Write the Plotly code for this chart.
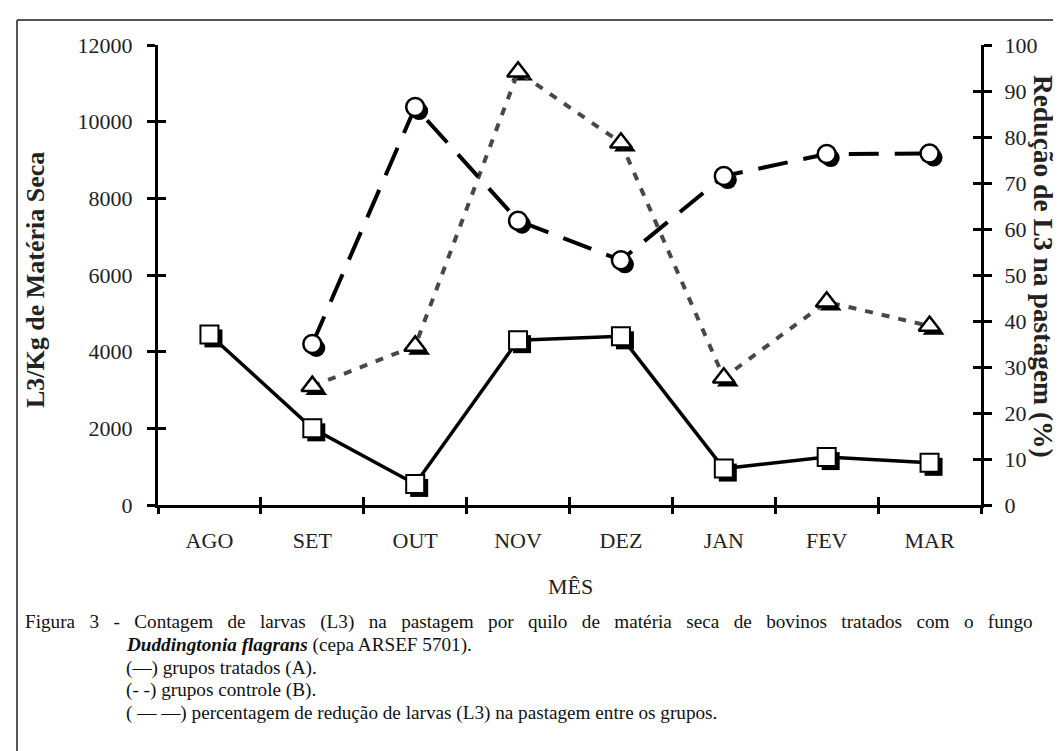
import plotly.graph_objects as go

# ---------------- data ----------------
months = ["AGO", "SET", "OUT", "NOV", "DEZ", "JAN", "FEV", "MAR"]
treated_A = [4450, 2000, 550, 4300, 4400, 950, 1250, 1100]          # L3/kg MS (left axis)
control_B = [None, 3100, 4150, 11300, 9450, 3320, 5300, 4670]       # L3/kg MS (left axis)
reduction = [None, 35.0, 86.5, 61.8, 53.2, 71.5, 76.3, 76.4]        # % (right axis)
left_ticks = [0, 2000, 4000, 6000, 8000, 10000, 12000]
left_ticktext = ["0", "2000", "4000", "6000", "8000", "10000", "12000"]
right_ticks = [0, 10, 20, 30, 40, 50, 60, 70, 80, 90, 100]

# ---------------- geometry ----------------
W, H = 1061, 751
L, R, T, B = 150, 973, 37, 497      # plot area in pixels
XR = [-0.5, 7.5]
YL = [0, 12000]
YR = [0, 100]
SH = 4  # shadow offset in px

ux = (XR[1] - XR[0]) / (R - L)
vl = (YL[1] - YL[0]) / (B - T)
vr = (YR[1] - YR[0]) / (B - T)

def px(p):
    return (p - L) / (R - L)

def py(p):
    return (B - p) / (B - T)

FONT = "Times New Roman, Liberation Serif, DejaVu Serif, serif"
x = list(range(len(months)))
bounds = [i - 0.5 for i in range(len(months) + 1)]

fig = go.Figure()

# shadows (base subplot, shifted axes)
fig.add_trace(go.Scatter(x=x, y=treated_A, mode="markers", xaxis="x", yaxis="y",
                         marker=dict(symbol="square", size=18, color="black", line=dict(width=0)),
                         showlegend=False, hoverinfo="skip"))
fig.add_trace(go.Scatter(x=x, y=control_B, mode="markers", xaxis="x", yaxis="y",
                         marker=dict(symbol="triangle-up", size=19, color="black", line=dict(width=0)),
                         showlegend=False, hoverinfo="skip"))
fig.add_trace(go.Scatter(x=x, y=reduction, mode="markers", xaxis="x", yaxis="y2",
                         marker=dict(symbol="circle", size=18, color="black", line=dict(width=0)),
                         showlegend=False, hoverinfo="skip"))

# visible series
fig.add_trace(go.Scatter(x=x, y=control_B, mode="lines+markers", xaxis="x2", yaxis="y3",
                         line=dict(color="#484848", width=4, dash="8px,9px"),
                         marker=dict(symbol="triangle-up", size=19, color="white",
                                     line=dict(color="black", width=2.5)),
                         name="controle (B)", showlegend=False))
fig.add_trace(go.Scatter(x=x, y=treated_A, mode="lines+markers", xaxis="x2", yaxis="y3",
                         line=dict(color="black", width=3.5),
                         marker=dict(symbol="square", size=18, color="white",
                                     line=dict(color="black", width=2)),
                         name="tratados (A)", showlegend=False))
fig.add_trace(go.Scatter(x=x, y=reduction, mode="lines+markers", xaxis="x2", yaxis="y5",
                         line=dict(color="black", width=4, dash="30px,16px"),
                         marker=dict(symbol="circle", size=18, color="white",
                                     line=dict(color="black", width=2.5)),
                         name="redução (%)", showlegend=False))
# dummy traces so that tick-only axes exist
for xa, ya in [("x3", "y4"), ("x4", "y6")]:
    fig.add_trace(go.Scatter(x=[None], y=[None], xaxis=xa, yaxis=ya, showlegend=False, hoverinfo="skip"))

tickfont = dict(family=FONT, size=22, color="#222222")
common = dict(showgrid=False, zeroline=False)

fig.update_layout(
    width=W, height=H,
    margin=dict(l=L, r=W - R, t=T, b=H - B),
    paper_bgcolor="white", plot_bgcolor="white",
    showlegend=False,
    font=dict(family=FONT),
    # shadow axes
    xaxis=dict(range=[XR[0] - SH * ux, XR[1] - SH * ux], visible=False, anchor="y", **common),
    yaxis=dict(range=[YL[0] + SH * vl, YL[1] + SH * vl], visible=False, anchor="x", **common),
    yaxis2=dict(range=[YR[0] + SH * vr, YR[1] + SH * vr], visible=False, anchor="x", overlaying="y", **common),
    # visible x axis with month labels
    xaxis2=dict(range=XR, overlaying="x", anchor="y3", tickmode="array", tickvals=x, ticktext=months,
                ticks="", showline=True, linecolor="black", linewidth=3, tickfont=tickfont,
                ticklabelstandoff=14, **common),
    xaxis3=dict(range=XR, overlaying="x", anchor="y4", tickmode="array", tickvals=bounds,
                ticks="outside", ticklen=8, tickwidth=2.5, tickcolor="black",
                showticklabels=False, showline=False, **common),
    xaxis4=dict(range=XR, overlaying="x", anchor="y6", tickmode="array", tickvals=bounds,
                ticks="inside", ticklen=8, tickwidth=2.5, tickcolor="black",
                showticklabels=False, showline=False, **common),
    # left axis
    yaxis3=dict(range=YL, overlaying="y", anchor="x2", side="left", tickmode="array",
                tickvals=left_ticks, ticktext=left_ticktext,
                ticks="outside", ticklen=8, tickwidth=2.5, tickcolor="black",
                showline=True, linecolor="black", linewidth=3, tickfont=tickfont,
                ticklabelstandoff=10, **common),
    yaxis4=dict(range=YL, overlaying="y", anchor="x3", side="left", tickmode="array", tickvals=left_ticks,
                ticks="inside", ticklen=8, tickwidth=2.5, tickcolor="black",
                showticklabels=False, showline=False, **common),
    # right axis
    yaxis5=dict(range=YR, overlaying="y", anchor="x2", side="right", tickmode="array", tickvals=right_ticks,
                ticks="outside", ticklen=8, tickwidth=2.5, tickcolor="black",
                showline=True, linecolor="black", linewidth=3, tickfont=tickfont,
                ticklabelstandoff=8, **common),
    yaxis6=dict(range=YR, overlaying="y", anchor="x4", side="right", tickmode="array", tickvals=right_ticks,
                ticks="inside", ticklen=8, tickwidth=2.5, tickcolor="black",
                showticklabels=False, showline=False, **common),
)

ann = []
ann.append(dict(text="<b>L3/Kg de Matéria Seca</b>", x=px(27), y=py(272), xref="paper", yref="paper",
                textangle=-90, showarrow=False, font=dict(family=FONT, size=26, color="#222222"),
                xanchor="center", yanchor="middle"))
ann.append(dict(text="<b>Redução de L3 na pastagem (%)</b>", x=px(1036), y=py(258), xref="paper", yref="paper",
                textangle=90, showarrow=False, font=dict(family=FONT, size=27.5, color="#222222"),
                xanchor="center", yanchor="middle"))
ann.append(dict(text="MÊS", x=px(562), y=py(578), xref="paper", yref="paper", showarrow=False,
                font=dict(family=FONT, size=22, color="#222222"), xanchor="center", yanchor="middle"))

cap_font = dict(family=FONT, size=19.2, color="#111111")
sp = " " + "&nbsp;" * 2
line1 = sp.join("Figura 3 - Contagem de larvas (L3) na pastagem por quilo de matéria seca de bovinos tratados com o fungo".split(" "))
captions = [
    (line1, 15, 614),
    ("<b><i>Duddingtonia flagrans</i></b> (cepa ARSEF 5701).", 116, 637),
    ("(—) grupos tratados (A).", 116, 660),
    ("(- -) grupos controle (B).", 116, 682),
    ("( — —) percentagem de redução de larvas (L3) na pastagem entre os grupos.", 116, 705),
]
for txt, xx, yy in captions:
    ann.append(dict(text=txt, x=px(xx), y=py(yy), xref="paper", yref="paper", showarrow=False,
                    font=cap_font, xanchor="left", yanchor="middle", align="left"))

fig.update_layout(annotations=ann)

# figure frame (top and left edges)
fig.add_shape(type="line", xref="paper", yref="paper", x0=px(9), x1=px(W + 5), y0=py(12), y1=py(12),
              line=dict(color="#555555", width=2))
fig.add_shape(type="line", xref="paper", yref="paper", x0=px(9), x1=px(9), y0=py(12), y1=py(H + 5),
              line=dict(color="#555555", width=2))

fig.write_html("out.html")
